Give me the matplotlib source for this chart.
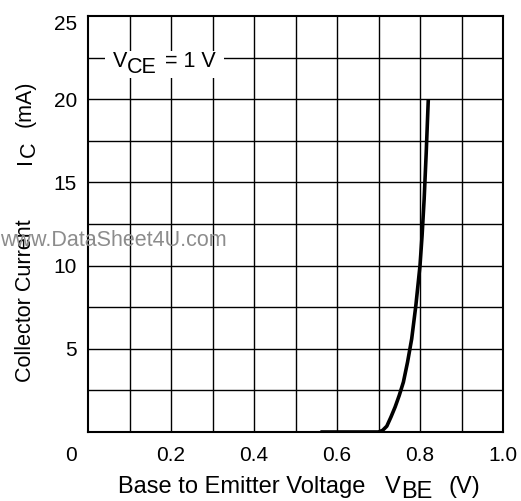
import matplotlib.pyplot as plt
import matplotlib.patches as mpatches
import matplotlib.transforms as mtransforms
import numpy as np

plt.rcParams['font.family'] = ['Liberation Sans', 'DejaVu Sans']

# curve
vbe = [0.56, 0.70, 0.71, 0.72, 0.73, 0.74, 0.75, 0.76, 0.77, 0.78, 0.79, 0.80, 0.805, 0.81, 0.815, 0.82]
ic = [0.0, 0.0, 0.1, 0.35, 0.9, 1.5, 2.2, 3.0, 4.2, 5.6, 7.6, 10.0, 11.8, 14.0, 16.8, 20.0]

xticks = [0.2, 0.4, 0.6, 0.8, 1.0]
xticklabels = ['0.2', '0.4', '0.6', '0.8', '1.0']
yticks = [5, 10, 15, 20, 25]
yticklabels = ['5', '10', '15', '20', '25']

W, H = 521, 501
fig = plt.figure(figsize=(W / 100, H / 100), dpi=100)
ax = fig.add_axes([88 / W, 1 - 432 / H, 415 / W, 416 / H])
renderer = fig.canvas.get_renderer()


def put_text(parts, x, y, rot=0, size=15.5, z=3):
    # parts: (text, drop in px, gap after in px); x, y in px from bottom-left
    arts = []
    for s, drop, gap in parts:
        if rot == 0:
            t = fig.text((x) / W, (y - drop) / H, s, fontsize=size, ha='left', va='baseline', zorder=z)
            w = t.get_window_extent(renderer).width
            x += w + gap
        else:
            t = fig.text((x + drop) / W, y / H, s, fontsize=size, ha='left', va='baseline',
                         rotation=90, rotation_mode='anchor', zorder=z)
            h = t.get_window_extent(renderer).height
            y += h + gap
        arts.append(t)
    return arts


# grid
for gx in np.arange(0.1, 1.0, 0.1):
    ax.axvline(gx, color='black', lw=1.0, zorder=1)
for gy in np.arange(2.5, 25, 2.5):
    ax.axhline(gy, color='black', lw=1.0, zorder=1)

ax.plot(vbe, ic, color='black', lw=2.6, zorder=3, solid_capstyle='butt')

ax.set_xlim(0, 1.0)
ax.set_ylim(0, 25)
ax.set_xticks(xticks)
ax.set_xticklabels(xticklabels)
ax.set_yticks(yticks)
ax.set_yticklabels(yticklabels)
ax.tick_params(length=0, labelsize=15)
ax.tick_params(axis='x', pad=10)
ax.tick_params(axis='y', pad=8)
for s in ax.spines.values():
    s.set_linewidth(1.5)

# shift the top y label down a little, as in the original
lab = ax.get_yticklabels()[-1]
lab.set_transform(lab.get_transform() + mtransforms.ScaledTranslation(0, -6 / 100, fig.dpi_scale_trans))

# corner "0"
ax.annotate('0', xy=(0, 0), xycoords='axes fraction', xytext=(-17, -14),
            textcoords='offset pixels', fontsize=15, ha='center', va='top', annotation_clip=False)

# V_CE = 1 V with white gap in the grid line
note = put_text([('V', 0, 0), ('CE', 6, 8), ('= 1 V', 0, 0)], 113, H - 67, size=15.5)
bbs = [t.get_window_extent(renderer) for t in note]
x0 = min(b.x0 for b in bbs) - 8
x1 = max(b.x1 for b in bbs) + 8
y0 = min(b.y0 for b in bbs)
y1 = max(b.y1 for b in bbs)
fig.patches.append(mpatches.Rectangle((x0 / W, y0 / H), (x1 - x0) / W, (y1 - y0) / H,
                                      transform=fig.transFigure, facecolor='white',
                                      edgecolor='none', zorder=2))

# axis labels
put_text([('Base to Emitter Voltage', 0, 20), ('V', 0, 0), ('BE', 5, 16), ('(V)', 0, 0)],
         118, H - 493, size=17)
put_text([('Collector Current', 0, 55), ('I', 0, 1), ('C', 4, 15), ('(mA)', 0, 0)],
         31, H - 382, rot=90, size=15.5)

fig.text(0 / W, 1 - 246 / H, 'www.DataSheet4U.com', fontsize=15.5, color='#8c8c8c',
         va='baseline', ha='left', zorder=10)

fig.savefig('out.png', dpi=100)
